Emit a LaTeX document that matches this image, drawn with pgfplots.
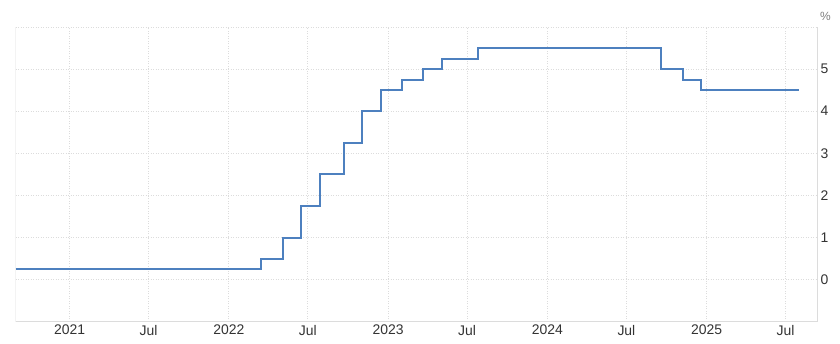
\documentclass[border=0pt]{standalone}
\usepackage{fontspec}
\setmainfont{Liberation Sans}
\usepackage{pgfplots}
\pgfplotsset{compat=1.18}
\definecolor{linec}{RGB}{77,128,191}
\definecolor{gridc}{RGB}{220,220,220}
\definecolor{txt}{RGB}{51,51,51}
\begin{document}
\begin{tikzpicture}[x=1bp,y=1bp]
\useasboundingbox (0,0) rectangle (840,343);
\begin{axis}[
 at={(15.5bp,21.3bp)}, anchor=south west,
 width=801.5bp, height=294.7bp, scale only axis,
 xmin=2020.66, xmax=2025.694, ymin=-1, ymax=6,
 axis x line*=bottom, axis y line*=right,
 axis line style={draw=gridc, line width=1bp, -},
 xtick={2021,2021.496,2022,2022.496,2023,2023.496,2024,2024.497,2025,2025.496},
 xticklabels={2021,Jul,2022,Jul,2023,Jul,2024,Jul,2025,Jul},
 ytick={0,1,2,3,4,5,6}, yticklabels={0,1,2,3,4,5,{}},
 grid=major, grid style={draw=gridc, dash pattern=on 1bp off 1.5bp, line width=0.8bp},
 major tick length=0,
 tick label style={font=\fontsize{14}{16}\selectfont, text=txt},
 /pgf/number format/assume math mode=true,
]
\addplot[const plot, draw=linec, line width=2bp] coordinates {
 (2020.66,0.25) (2022.205,0.5) (2022.340,1.0) (2022.455,1.75) (2022.570,2.5)
 (2022.723,3.25) (2022.838,4.0) (2022.953,4.5) (2023.088,4.75) (2023.222,5.0)
 (2023.337,5.25) (2023.567,5.5) (2024.716,5.0) (2024.852,4.75) (2024.964,4.5)
 (2025.58,4.5)
};
\draw[gridc, line width=1bp] (rel axis cs:0,0) -- (rel axis cs:0,1);
\end{axis}
\node[text=gray, font=\fontsize{12}{14}\selectfont] at (825.5,327) {\%};
\end{tikzpicture}
\end{document}
